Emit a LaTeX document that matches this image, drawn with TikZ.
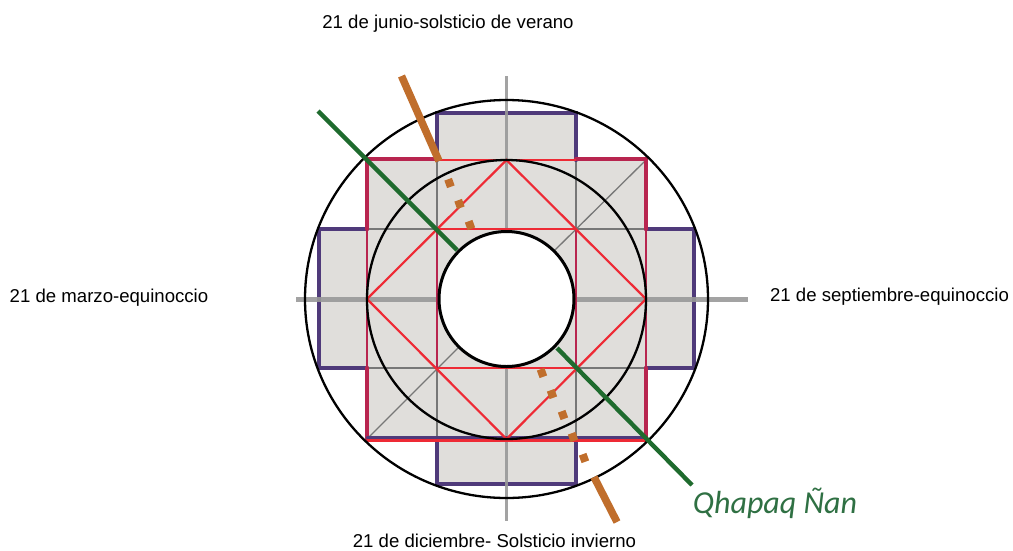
\documentclass[tikz,border=0pt]{standalone}
\usepackage{fontspec}
\setmainfont{Liberation Sans}
\newfontfamily\qfont{Carlito}
\definecolor{crossgray}{HTML}{E0DEDB}
\definecolor{axisgray}{HTML}{999999}
\definecolor{armpurple}{HTML}{4F3A7A}
\definecolor{thickred}{HTML}{B8254F}
\definecolor{brightred}{HTML}{EE2A35}
\definecolor{gridgray}{HTML}{777777}
\definecolor{roadorange}{HTML}{C06E2C}
\definecolor{roadgreen}{HTML}{1F6B2E}
\definecolor{qgreen}{HTML}{2F7043}
\tikzset{
  lbl/.style={font=\fontsize{18.6}{22}\selectfont,text=black,inner sep=0pt},
  axisline/.style={draw=axisgray,line width=5pt},
  armline/.style={draw=armpurple,line width=4.2pt,line cap=round},
  cornerline/.style={draw=thickred,line width=4.4pt},
  redthin/.style={draw=brightred,line width=1.8pt},
  redmain/.style={draw=brightred,line width=2.2pt},
  gridline/.style={draw=gridgray,line width=1.3pt},
  ring/.style={draw=black,line width=2.3pt},
  roadO/.style={draw=roadorange,line width=7.5pt},
  dotO/.style={fill=roadorange,draw=none,minimum size=8pt,inner sep=0pt,rectangle,rotate=20},
  roadG/.style={draw=roadgreen,line width=4.4pt}
}
\begin{document}
\begin{tikzpicture}[x=1pt,y=-1pt]
\useasboundingbox (0,0) rectangle (1013,550);
% cross fill
\fill[crossgray] (437,113) -- (576,113) -- (576,160) -- (646,160) -- (646,229) -- (694,229) -- (694,368) -- (646,368) -- (646,439) -- (576,439) -- (576,484) -- (437,484) -- (437,439) -- (367,439) -- (367,368) -- (319,368) -- (319,229) -- (367,229) -- (367,160) -- (437,160) -- cycle;
% grid
\draw[gridline] (437,160) -- (437,229);
\draw[gridline] (576,160) -- (576,229);
\draw[gridline] (437,368) -- (437,439);
\draw[gridline] (576,368) -- (576,439);
\draw[gridline] (367,229) -- (437,229);
\draw[gridline] (576,229) -- (646,229);
\draw[gridline] (367,368) -- (437,368);
\draw[gridline] (576,368) -- (646,368);
\draw[gridline] (555,250) -- (646,160);
\draw[gridline] (458,348) -- (367,439);
% purple arms
\draw[armline] (437,160) -- (437,113) -- (576,113) -- (576,160);
\draw[armline] (367,229) -- (319,229) -- (319,368) -- (367,368);
\draw[armline] (646,229) -- (694,229) -- (694,368) -- (646,368);
\draw[armline] (437,439) -- (437,484) -- (576,484) -- (576,439);
% axes, over the arms as in the reference
\draw[axisline,line width=3.6pt,opacity=.9] (506.5,76) -- (506.5,231);
\draw[axisline,line width=3.6pt,opacity=.9] (506.5,366) -- (506.5,521);
\draw[axisline,opacity=.9] (296,299) -- (438,299);
\draw[axisline,opacity=.9] (575,299) -- (748,299);
% corner lines
\draw[cornerline,line cap=round] (437,159) -- (367,159) -- (367,229);
\draw[cornerline,line cap=round] (576,159) -- (646,159) -- (646,229);
\draw[cornerline,line cap=round] (367,368) -- (367,439);
\draw[cornerline,line cap=round] (646,368) -- (646,439);
\draw[armline,line width=3pt] (367,437.5) -- (646,437.5);
\draw[draw=brightred,line width=3pt] (367,440) -- (646,440);
% thin red
\draw[redthin] (437,160) -- (576,160);
\draw[redthin] (437,229) -- (576,229);
\draw[redthin] (437,368) -- (576,368);
\draw[redthin,draw=thickred] (367,229) -- (367,368);
\draw[redthin,draw=thickred] (646,229) -- (646,368);
\draw[redthin,draw=thickred] (437,229) -- (437,368);
\draw[redthin,draw=thickred] (576,229) -- (576,368);
\draw[redmain] (367,299) -- (506.5,160) -- (646,299) -- (506.5,439) -- cycle;
% rings
\fill[white] (506.5,299) ellipse [x radius=67.5,y radius=67.5];
\draw[ring,line width=3pt] (506.5,299) ellipse [x radius=67.5,y radius=67.5];
\draw[ring] (506.5,299.5) ellipse [x radius=139.5,y radius=139.5];
\draw[ring] (506.5,299) ellipse [x radius=201.5,y radius=199];
% orange road
\draw[roadO] (401.5,76) -- (439,161);
\node[dotO] (o1) at (449.5,183) {};
\node[dotO] (o2) at (459.5,204) {};
\node[dotO] (o3) at (470,225) {};
\node[dotO] (o4) at (542,373) {};
\node[dotO] (o5) at (552,394) {};
\node[dotO] (o6) at (563,415) {};
\node[dotO] (o7) at (573,437) {};
\node[dotO] (o8) at (584,458) {};
\draw[roadO] (594,477) -- (617,522);
% green road
\draw[roadG] (318,111) -- (457,250);
\draw[roadG] (557,348) -- (692,485);
% labels
\node[lbl,anchor=center] (top) at (448,23.5) {21 de junio-solsticio de verano};
\node[lbl,anchor=center] (bot) at (494.5,540.5) {21 de diciembre- Solsticio invierno};
\node[lbl,anchor=center] (lft) at (109,298) {21 de marzo-equinoccio};
\node[lbl,anchor=center] (rgt) at (889.5,297) {21 de septiembre-equinoccio};
\node[inner sep=0pt,text=qgreen,font=\qfont\itshape\fontsize{32}{36}\selectfont] (qn) at (775,503) {Qhapaq Ñan};
\end{tikzpicture}
\end{document}
